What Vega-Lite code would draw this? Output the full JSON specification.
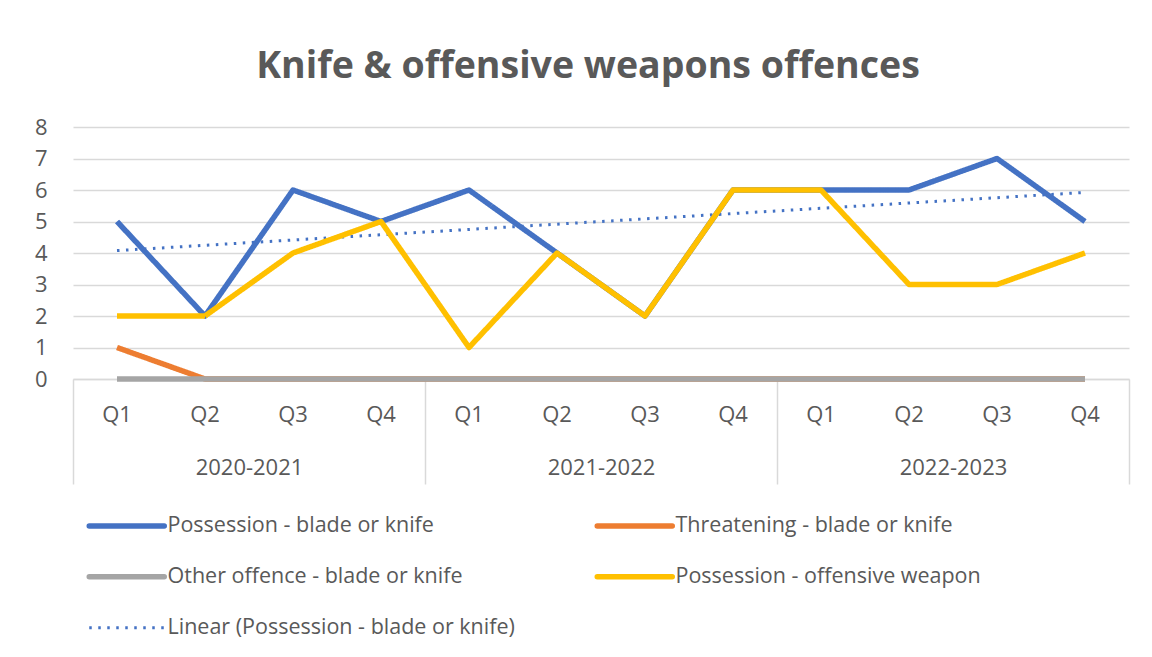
{
  "$schema": "https://vega.github.io/schema/vega-lite/v6.json",
  "width": 1056,
  "height": 252,
  "autosize": {"type": "none"},
  "padding": {"left": 73, "top": 127, "right": 23, "bottom": 278},
  "background": "white",
  "config": {
    "font": "Open Sans",
    "view": {"stroke": null},
    "axisY": {"title": null, "grid": true, "gridColor": "#d9d9d9", "gridWidth": 1.5, "ticks": false, "domain": false, "labelFontSize": 22, "labelColor": "#595959", "labelPadding": 26, "labelFont": "Open Sans", "labelOverlap": false, "values": [0, 1, 2, 3, 4, 5, 6, 7, 8]}
  },
  "title": {"text": "Knife & offensive weapons offences", "fontSize": 37.5, "fontWeight": "bold", "color": "#595959", "font": "Open Sans", "anchor": "middle", "offset": 31, "dx": -13},
  "data": {"values": [
    {"period": "2020-2021 Q1", "year": "2020-2021", "series": "Possession - blade or knife", "value": 5},
    {"period": "2020-2021 Q2", "year": "2020-2021", "series": "Possession - blade or knife", "value": 2},
    {"period": "2020-2021 Q3", "year": "2020-2021", "series": "Possession - blade or knife", "value": 6},
    {"period": "2020-2021 Q4", "year": "2020-2021", "series": "Possession - blade or knife", "value": 5},
    {"period": "2021-2022 Q1", "year": "2021-2022", "series": "Possession - blade or knife", "value": 6},
    {"period": "2021-2022 Q2", "year": "2021-2022", "series": "Possession - blade or knife", "value": 4},
    {"period": "2021-2022 Q3", "year": "2021-2022", "series": "Possession - blade or knife", "value": 2},
    {"period": "2021-2022 Q4", "year": "2021-2022", "series": "Possession - blade or knife", "value": 6},
    {"period": "2022-2023 Q1", "year": "2022-2023", "series": "Possession - blade or knife", "value": 6},
    {"period": "2022-2023 Q2", "year": "2022-2023", "series": "Possession - blade or knife", "value": 6},
    {"period": "2022-2023 Q3", "year": "2022-2023", "series": "Possession - blade or knife", "value": 7},
    {"period": "2022-2023 Q4", "year": "2022-2023", "series": "Possession - blade or knife", "value": 5},
    {"period": "2020-2021 Q1", "year": "2020-2021", "series": "Threatening - blade or knife", "value": 1},
    {"period": "2020-2021 Q2", "year": "2020-2021", "series": "Threatening - blade or knife", "value": 0},
    {"period": "2020-2021 Q3", "year": "2020-2021", "series": "Threatening - blade or knife", "value": 0},
    {"period": "2020-2021 Q4", "year": "2020-2021", "series": "Threatening - blade or knife", "value": 0},
    {"period": "2021-2022 Q1", "year": "2021-2022", "series": "Threatening - blade or knife", "value": 0},
    {"period": "2021-2022 Q2", "year": "2021-2022", "series": "Threatening - blade or knife", "value": 0},
    {"period": "2021-2022 Q3", "year": "2021-2022", "series": "Threatening - blade or knife", "value": 0},
    {"period": "2021-2022 Q4", "year": "2021-2022", "series": "Threatening - blade or knife", "value": 0},
    {"period": "2022-2023 Q1", "year": "2022-2023", "series": "Threatening - blade or knife", "value": 0},
    {"period": "2022-2023 Q2", "year": "2022-2023", "series": "Threatening - blade or knife", "value": 0},
    {"period": "2022-2023 Q3", "year": "2022-2023", "series": "Threatening - blade or knife", "value": 0},
    {"period": "2022-2023 Q4", "year": "2022-2023", "series": "Threatening - blade or knife", "value": 0},
    {"period": "2020-2021 Q1", "year": "2020-2021", "series": "Other offence - blade or knife", "value": 0},
    {"period": "2020-2021 Q2", "year": "2020-2021", "series": "Other offence - blade or knife", "value": 0},
    {"period": "2020-2021 Q3", "year": "2020-2021", "series": "Other offence - blade or knife", "value": 0},
    {"period": "2020-2021 Q4", "year": "2020-2021", "series": "Other offence - blade or knife", "value": 0},
    {"period": "2021-2022 Q1", "year": "2021-2022", "series": "Other offence - blade or knife", "value": 0},
    {"period": "2021-2022 Q2", "year": "2021-2022", "series": "Other offence - blade or knife", "value": 0},
    {"period": "2021-2022 Q3", "year": "2021-2022", "series": "Other offence - blade or knife", "value": 0},
    {"period": "2021-2022 Q4", "year": "2021-2022", "series": "Other offence - blade or knife", "value": 0},
    {"period": "2022-2023 Q1", "year": "2022-2023", "series": "Other offence - blade or knife", "value": 0},
    {"period": "2022-2023 Q2", "year": "2022-2023", "series": "Other offence - blade or knife", "value": 0},
    {"period": "2022-2023 Q3", "year": "2022-2023", "series": "Other offence - blade or knife", "value": 0},
    {"period": "2022-2023 Q4", "year": "2022-2023", "series": "Other offence - blade or knife", "value": 0},
    {"period": "2020-2021 Q1", "year": "2020-2021", "series": "Possession - offensive weapon", "value": 2},
    {"period": "2020-2021 Q2", "year": "2020-2021", "series": "Possession - offensive weapon", "value": 2},
    {"period": "2020-2021 Q3", "year": "2020-2021", "series": "Possession - offensive weapon", "value": 4},
    {"period": "2020-2021 Q4", "year": "2020-2021", "series": "Possession - offensive weapon", "value": 5},
    {"period": "2021-2022 Q1", "year": "2021-2022", "series": "Possession - offensive weapon", "value": 1},
    {"period": "2021-2022 Q2", "year": "2021-2022", "series": "Possession - offensive weapon", "value": 4},
    {"period": "2021-2022 Q3", "year": "2021-2022", "series": "Possession - offensive weapon", "value": 2},
    {"period": "2021-2022 Q4", "year": "2021-2022", "series": "Possession - offensive weapon", "value": 6},
    {"period": "2022-2023 Q1", "year": "2022-2023", "series": "Possession - offensive weapon", "value": 6},
    {"period": "2022-2023 Q2", "year": "2022-2023", "series": "Possession - offensive weapon", "value": 3},
    {"period": "2022-2023 Q3", "year": "2022-2023", "series": "Possession - offensive weapon", "value": 3},
    {"period": "2022-2023 Q4", "year": "2022-2023", "series": "Possession - offensive weapon", "value": 4}
  ]},
  "resolve": {"scale": {"x": "independent"}},
  "layer": [
    {
      "transform": [
        {"filter": {"field": "series", "equal": "Possession - blade or knife"}},
        {"window": [{"op": "row_number", "as": "idx"}]},
        {"regression": "value", "on": "idx", "extent": [1, 12]}
      ],
      "mark": {"type": "line", "strokeWidth": 3, "strokeCap": "butt"},
      "encoding": {
        "x": {"field": "idx", "type": "quantitative", "scale": {"domain": [0.5, 12.5], "nice": false, "zero": false}, "axis": null},
        "y": {"field": "value", "type": "quantitative", "scale": {"domain": [0, 8], "nice": false, "tickCount": 8}, "axis": {"values": [0, 1, 2, 3, 4, 5, 6, 7, 8], "labelOverlap": false}},
        "color": {"datum": "Linear (Possession - blade or knife)"},
        "strokeDash": {"datum": "Linear (Possession - blade or knife)"}
      }
    },
    {
      "mark": {"type": "line", "strokeWidth": 5.5, "strokeJoin": "round"},
      "encoding": {
        "x": {"field": "period", "type": "nominal", "sort": null, "scale": {"type": "band", "paddingInner": 0, "paddingOuter": 0},
          "axis": {"title": null, "labelExpr": "split(datum.label, ' ')[1]", "ticks": false, "domain": true, "domainColor": "#d9d9d9", "domainWidth": 1.5, "labelFontSize": 22, "labelColor": "#595959", "labelPadding": 35, "labelBaseline": "middle", "labelAngle": 0, "grid": false, "orient": "bottom"}},
        "y": {"field": "value", "type": "quantitative", "scale": {"domain": [0, 8], "nice": false}, "axis": {"values": [0, 1, 2, 3, 4, 5, 6, 7, 8], "labelOverlap": false}},
        "color": {"field": "series", "type": "nominal",
          "scale": {"domain": ["Possession - blade or knife", "Threatening - blade or knife", "Other offence - blade or knife", "Possession - offensive weapon", "Linear (Possession - blade or knife)"],
                    "range": ["#4472C4", "#ED7D31", "#A5A5A5", "#FFC000", "#4472C4"]},
          "legend": {"title": null, "orient": "none", "direction": "horizontal", "legendX": 43, "legendY": 388, "columns": 2, "symbolType": "stroke", "symbolSize": 5625, "symbolStrokeWidth": 5.5, "labelFontSize": 21.5, "labelColor": "#595959", "labelFont": "Open Sans", "labelOffset": 30, "rowPadding": 28, "columnPadding": 71, "labelLimit": 700,
            "encode": {"symbols": {"update": {"strokeWidth": {"signal": "datum.value === 'Linear (Possession - blade or knife)' ? 3 : 5.5"}, "strokeCap": {"signal": "datum.value === 'Linear (Possession - blade or knife)' ? 'butt' : 'round'"}}}}}},
        "strokeDash": {"field": "series", "type": "nominal",
          "scale": {"domain": ["Possession - blade or knife", "Threatening - blade or knife", "Other offence - blade or knife", "Possession - offensive weapon", "Linear (Possession - blade or knife)"],
                    "range": [[1, 0], [1, 0], [1, 0], [1, 0], [2.5, 6.5]]},
          "legend": {"title": null}}
      }
    },
    {
      "mark": {"type": "point", "opacity": 0},
      "encoding": {
        "x": {"field": "year", "type": "nominal", "sort": null, "scale": {"type": "band", "paddingInner": 0, "paddingOuter": 0},
          "axis": {"title": null, "orient": "bottom", "domain": false, "ticks": true, "tickBand": "extent", "tickSize": 105, "tickColor": "#d9d9d9", "tickWidth": 1.5, "labelFontSize": 22, "labelColor": "#595959", "labelPadding": -17, "labelBaseline": "middle", "labelAngle": 0, "grid": false}},
        "y": {"field": "value", "type": "quantitative", "scale": {"domain": [0, 8], "nice": false}, "axis": {"values": [0, 1, 2, 3, 4, 5, 6, 7, 8], "labelOverlap": false}}
      }
    }
  ]
}
